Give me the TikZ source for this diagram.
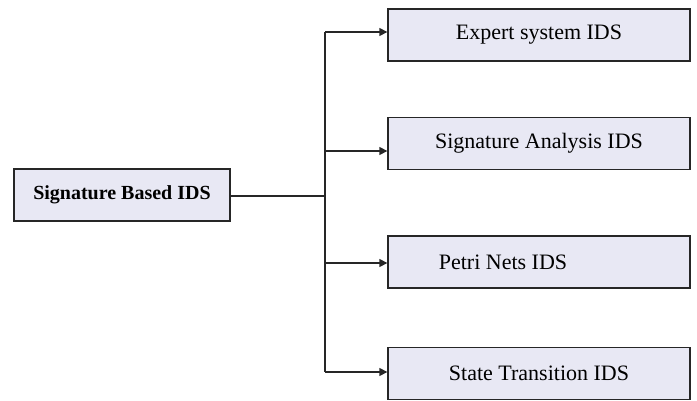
\documentclass[tikz,border=0pt]{standalone}
\usepackage{fontspec}
\setmainfont{Liberation Serif}
\usetikzlibrary{arrows.meta}
\definecolor{boxfill}{RGB}{232,232,244}
\begin{document}
\begin{tikzpicture}[x=1pt,y=-1pt,
  idsbox/.style={draw=black!85,line width=1.3pt,fill=boxfill,minimum width=302pt,minimum height=52pt,inner sep=0pt,font=\fontsize{22}{26}\selectfont},
  conn/.style={draw=black!85,line width=1.3pt},
  arr/.style={conn,-{Triangle[length=8pt,width=8pt]}}]
\useasboundingbox (0,0) rectangle (697,401);
\node[idsbox,minimum width=216pt,font=\bfseries\fontsize{20}{24}\selectfont] (root) at (122,195) {Signature Based IDS};
\node[idsbox] (a) at (539,35) {Expert system IDS};
\node[idsbox] (b) at (539,143.5) {Signature Analysis IDS};
\node[idsbox] (c) at (539,262) {\hspace*{-72pt}Petri Nets IDS};
\node[idsbox] (d) at (539,373.5) {State Transition IDS};
\coordinate (j) at (325,196);
\coordinate (top) at (325,32);
\coordinate (bot) at (325,372);
\draw[conn] (root.east |- j) -- (j);
\draw[conn] (top) -- (bot);
\draw[arr] (top) -- (a.west |- top);
\draw[arr] (325,151) -- (b.west |- 0,151);
\draw[arr] (325,263) -- (c.west |- 0,263);
\draw[arr] (bot) -- (d.west |- bot);
\end{tikzpicture}
\end{document}
